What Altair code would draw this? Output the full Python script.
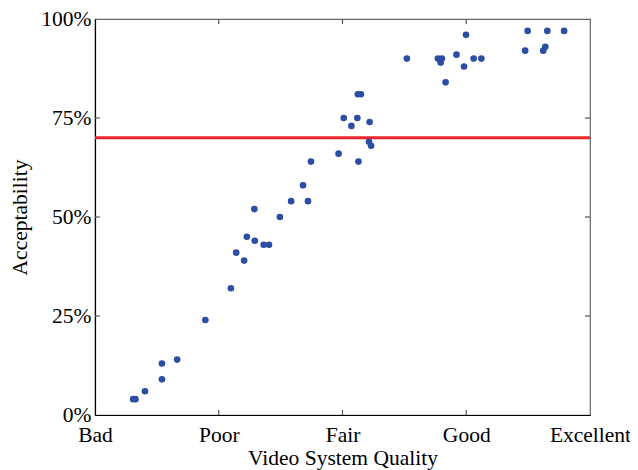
import altair as alt
import pandas as pd

# Data
quality = [1.308, 1.327, 1.404, 1.541, 1.541, 1.664, 1.892, 2.098, 2.141, 2.205,
           2.227, 2.288, 2.291, 2.363, 2.406, 2.494, 2.585, 2.681, 2.721, 2.745,
           2.968, 3.010, 3.072, 3.120, 3.129, 3.124, 3.149, 3.219, 3.214, 3.231,
           3.520, 3.771, 3.803, 3.793, 3.833, 3.921, 3.982, 3.998, 4.060, 4.122,
           4.476, 4.496, 4.622, 4.639, 4.655, 4.791]
acceptability = [4, 4, 6, 9, 13, 14, 24, 32, 41, 39,
                 45, 52, 44, 43, 43, 50, 54, 58, 54, 64,
                 66, 75, 73, 75, 64, 81, 81, 74, 69, 68,
                 90, 90, 90, 89, 84, 91, 88, 96, 90, 90,
                 92, 97, 92, 93, 97, 97]
threshold = [70]
x_ticks = [1, 2, 3, 4, 5]
x_tick_labels = ["Bad", "Poor", "Fair", "Good", "Excellent"]
y_ticks = [0, 25, 50, 75, 100]

W, H = 495, 396
FONT = "Liberation Serif"
FS = 21.5

df = pd.DataFrame({"q": quality, "a": acceptability})
xt = pd.DataFrame({"q": x_ticks[1:-1]})
yt = pd.DataFrame({"a": y_ticks[1:-1]})
thr = pd.DataFrame({"a": threshold})

xscale = alt.Scale(domain=[x_ticks[0], x_ticks[-1]], nice=False, zero=False)
yscale = alt.Scale(domain=[y_ticks[0], y_ticks[-1]], nice=False)

label_arr = "[" + ",".join("'" + s + "'" for s in x_tick_labels) + "]"

xaxis = alt.Axis(values=x_ticks, labelExpr=label_arr + "[datum.value-1]",
                 title="Video System Quality", ticks=False, grid=False,
                 domainColor="black", domainWidth=1.2,
                 labelFont=FONT, labelFontSize=FS, labelColor="black",
                 labelBaseline="alphabetic", labelPadding=26,
                 labelAlign="center", labelFlush=False, labelOverlap=False,
                 titleFont=FONT, titleFontSize=FS, titleFontWeight="normal",
                 titleColor="black", titleBaseline="alphabetic", titleY=49)
yaxis = alt.Axis(values=y_ticks, labelExpr="datum.value + '%'",
                 title="Acceptability", ticks=False, grid=False,
                 domainColor="black", domainWidth=1.2,
                 labelFont=FONT, labelFontSize=FS, labelColor="black",
                 labelPadding=4, labelFlush=False, labelOverlap=False,
                 titleFont=FONT, titleFontSize=FS, titleFontWeight="normal",
                 titleColor="black", titleX=-75, titleY=H / 2,
                 titleBaseline="middle", titleAlign="center", titleAngle=270)


def X():
    return alt.X("q:Q", scale=xscale, axis=xaxis)


def Y():
    return alt.Y("a:Q", scale=yscale, axis=yaxis)


points = alt.Chart(df).mark_circle(size=44, opacity=1, color="#2B4DA3").encode(x=X(), y=Y())

line = alt.Chart(thr).mark_rule(color="#E8262B", strokeWidth=3).encode(
    y=Y(), x=alt.value(0), x2=alt.value(W))

tick_col = "#555555"
bottom_ticks = alt.Chart(xt).mark_rule(color=tick_col, strokeWidth=1.2).encode(
    x=X(), y=alt.value(H), y2=alt.value(H - 5))
top_ticks = alt.Chart(xt).mark_rule(color=tick_col, strokeWidth=1.2).encode(
    x=X(), y=alt.value(0), y2=alt.value(5))
left_ticks = alt.Chart(yt).mark_rule(color=tick_col, strokeWidth=1.2).encode(
    y=Y(), x=alt.value(0), x2=alt.value(5))
right_ticks = alt.Chart(yt).mark_rule(color=tick_col, strokeWidth=1.2).encode(
    y=Y(), x=alt.value(W), x2=alt.value(W - 5))

chart = alt.layer(line, bottom_ticks, top_ticks, left_ticks, right_ticks, points).properties(
    width=W, height=H,
    autosize=alt.AutoSizeParams(type="none"),
    padding={"left": 87, "top": 11, "right": 40, "bottom": 55},
    background="white",
).configure_view(stroke="#666666", strokeWidth=1.2)

chart.save("out.html", embed_options={"renderer": "svg", "actions": False})
